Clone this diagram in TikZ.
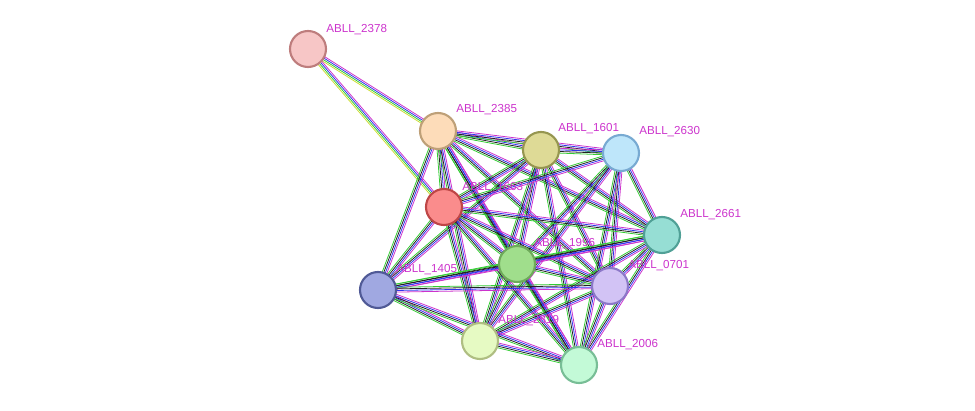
\documentclass[tikz,border=0pt]{standalone}
\usepackage{fontspec}
\setmainfont{Liberation Sans}
\usetikzlibrary{calc}
\definecolor{eg}{HTML}{33CC33}
\definecolor{eb}{HTML}{3333EE}
\definecolor{ep}{HTML}{CC33CC}
\definecolor{ey}{HTML}{CCDD33}
\definecolor{ek}{HTML}{222222}
\definecolor{ec}{HTML}{66BBEE}
\newcommand{\strline}[3]{%
  \foreach \c [count=\i] in {#3} {
    \pgfmathsetmacro{\off}{(\i-2.5)*1.7}
    \draw[#3edge,draw=\c] ($(#1)!\off*0.2mm!90:(#2)$) -- ($(#2)!\off*0.2mm!-90:(#1)$);
  }}
\tikzset{
  edge/.style={line width=0.45pt},
  eg,eb,ep,ey/.style={},
  prot/.style={circle, minimum size=7.2mm, line width=1.2pt, inner sep=0},
  lbl/.style={font=\fontsize{6.6}{7}\selectfont, inner sep=0, anchor=south west}
}
\newcommand{\stredge}[3]{%
  \foreach \c [count=\i] in {#3} {
    \pgfmathsetmacro{\off}{(\i-2.5)*1.6}
    \draw[edge,draw=\c] ($(#1)!\off*0.2mm!90:(#2)$) -- ($(#2)!\off*0.2mm!-90:(#1)$);
  }}
\begin{document}
\begin{tikzpicture}[x=0.2mm,y=-0.2mm]
    \useasboundingbox (0,0) rectangle (975,411);
    % proteins
    \coordinate (p2378) at (308,49);
    \coordinate (p2385) at (438,131);
    \coordinate (p1601) at (541,150);
    \coordinate (p2630) at (621,153);
    \coordinate (p1663) at (444,207);
    \coordinate (p2661) at (662,235);
    \coordinate (p1996) at (517,264);
    \coordinate (p0701) at (610,286);
    \coordinate (p1405) at (378,290);
    \coordinate (p2819) at (480,341);
    \coordinate (p2006) at (579,365);
    % interactions
    \stredge{p2378}{p2385}{ey,eg,eb,ep}
    \stredge{p2378}{p1663}{ey,eg,eb,ep}
    \foreach \a/\b in {p2385/p1601,p2385/p2630,p2385/p1663,p2385/p1996,p2385/p2819,p2385/p2006,p2385/p1405,p2385/p0701,p2385/p2661,
                      p1601/p2630,p1601/p1663,p1601/p1996,p1601/p0701,p1601/p2006,p1601/p2819,p1601/p2661,p1601/p1405,
                      p2630/p1663,p2630/p1996,p2630/p0701,p2630/p2006,p2630/p2819,p2630/p2661,
                      p1663/p1996,p1663/p2661,p1663/p0701,p1663/p1405,p1663/p2819,p1663/p2006,
                      p2661/p1996,p2661/p0701,p2661/p2006,p2661/p1405,p2661/p2819,
                      p1996/p0701,p1996/p1405,p1996/p2819,p1996/p2006,
                      p0701/p2819,p0701/p2006,p0701/p1405,
                      p1405/p2819,p1405/p2006,p2819/p2006}
      {\stredge{\a}{\b}{eg,ek,eb,ep}}
    % nodes
    \node[prot, fill={rgb,255:red,247;green,198;blue,198}, draw={rgb,255:red,190;green,125;blue,125}] (n2378) at (p2378) {};
    \node[prot, fill={rgb,255:red,253;green,220;blue,185}, draw={rgb,255:red,190;green,160;blue,120}] (n2385) at (p2385) {};
    \node[prot, fill={rgb,255:red,222;green,218;blue,150}, draw={rgb,255:red,150;green,150;blue,80}] (n1601) at (p1601) {};
    \node[prot, fill={rgb,255:red,190;green,230;blue,250}, draw={rgb,255:red,120;green,170;blue,210}] (n2630) at (p2630) {};
    \node[prot, fill={rgb,255:red,250;green,140;blue,140}, draw={rgb,255:red,190;green,70;blue,70}] (n1663) at (p1663) {};
    \node[prot, fill={rgb,255:red,150;green,222;blue,212}, draw={rgb,255:red,80;green,160;blue,150}] (n2661) at (p2661) {};
    \node[prot, fill={rgb,255:red,160;green,222;blue,140}, draw={rgb,255:red,110;green,170;blue,90}] (n1996) at (p1996) {};
    \node[prot, fill={rgb,255:red,210;green,195;blue,245}, draw={rgb,255:red,140;green,120;blue,200}] (n0701) at (p0701) {};
    \node[prot, fill={rgb,255:red,160;green,168;blue,225}, draw={rgb,255:red,80;green,90;blue,150}] (n1405) at (p1405) {};
    \node[prot, fill={rgb,255:red,230;green,250;blue,195}, draw={rgb,255:red,175;green,190;blue,130}] (n2819) at (p2819) {};
    \node[prot, fill={rgb,255:red,195;green,250;blue,215}, draw={rgb,255:red,120;green,190;blue,150}] (n2006) at (p2006) {};
    % labels
    \node[lbl] (l2378) at ($(p2378)+(18,-14)$) {ABLL\_2378};
    \node[lbl] (l2385) at ($(p2385)+(18,-16)$) {ABLL\_2385};
    \node[lbl] (l1601) at ($(p1601)+(17,-16)$) {ABLL\_1601};
    \node[lbl] (l2630) at ($(p2630)+(18,-16)$) {ABLL\_2630};
    \node[lbl] (l1663) at ($(p1663)+(18,-14)$) {ABLL\_1663};
    \node[lbl] (l2661) at ($(p2661)+(18,-15)$) {ABLL\_2661};
    \node[lbl] (l1996) at ($(p1996)+(17,-15)$) {ABLL\_1996};
    \node[lbl] (l0701) at ($(p0701)+(18,-15)$) {ABLL\_0701};
    \node[lbl] (l1405) at ($(p1405)+(18,-15)$) {ABLL\_1405};
    \node[lbl] (l2819) at ($(p2819)+(18,-15)$) {ABLL\_2819};
    \node[lbl] (l2006) at ($(p2006)+(18,-15)$) {ABLL\_2006};
\end{tikzpicture}
\end{document}
